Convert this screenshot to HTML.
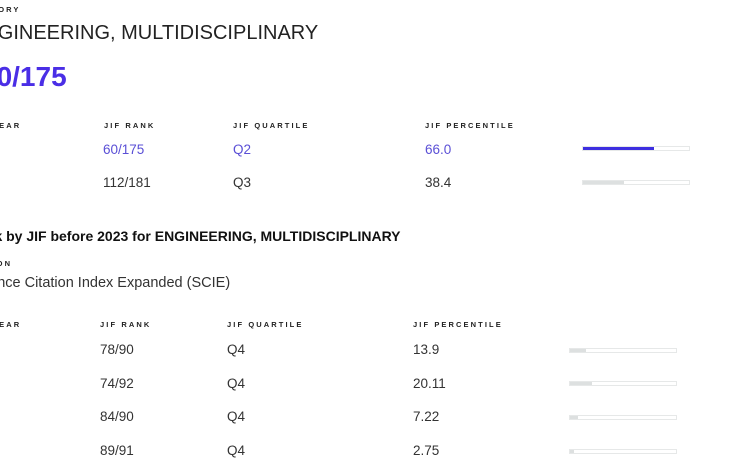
<!DOCTYPE html>
<html><head><meta charset="utf-8"><style>
body{margin:0;width:755px;height:475px;overflow:hidden;background:#fff;font-family:"Liberation Sans",sans-serif;color:#222;position:relative}
div{position:absolute;white-space:nowrap}
.h{font-size:7.5px;font-weight:bold;letter-spacing:2.1px;color:#222}
.v{font-size:13.5px;color:#333}
.p{color:#5a4fd6}
.bar{height:5px;width:108px;border:1px solid #e6e8e8;background:#fff;box-sizing:border-box}
.bar i{display:block;height:100%;background:#dde0e0}
</style></head><body>
<div class="h" style="left:-38px;top:5px">CATEGORY</div>
<div style="left:-30px;top:22px;font-size:20px;color:#222">ENGINEERING, MULTIDISCIPLINARY</div>
<div style="left:-19px;top:61px;font-size:28px;font-weight:bold;color:#4a2ee6">60/175</div>
<div class="h" style="left:-8px;top:121px">YEAR</div>
<div class="h" style="left:104px;top:121px">JIF RANK</div>
<div class="h" style="left:233px;top:121px">JIF QUARTILE</div>
<div class="h" style="left:425px;top:121px">JIF PERCENTILE</div>
<div class="v p" style="left:103px;top:142px">60/175</div>
<div class="v p" style="left:233px;top:142px">Q2</div>
<div class="v p" style="left:425px;top:142px">66.0</div>
<div class="bar" style="left:582px;top:146px"><i style="width:67%;background:#3d2ee0"></i></div>
<div class="v" style="left:103px;top:175px">112/181</div>
<div class="v" style="left:233px;top:175px">Q3</div>
<div class="v" style="left:425px;top:175px">38.4</div>
<div class="bar" style="left:582px;top:180px"><i style="width:39%"></i></div>
<div style="left:-32px;top:228px;font-size:14px;font-weight:bold;color:#111">Rank by JIF before 2023 for ENGINEERING, MULTIDISCIPLINARY</div>
<div class="h" style="left:-33px;top:259px">EDITION</div>
<div class="v" style="left:-31px;top:275px;font-size:14.5px">Science Citation Index Expanded (SCIE)</div>
<div class="h" style="left:-8px;top:320px">YEAR</div>
<div class="h" style="left:100px;top:320px">JIF RANK</div>
<div class="h" style="left:227px;top:320px">JIF QUARTILE</div>
<div class="h" style="left:413px;top:320px">JIF PERCENTILE</div>
<div class="v" style="left:100px;top:342px">78/90</div><div class="v" style="left:227px;top:342px">Q4</div><div class="v" style="left:413px;top:342px">13.9</div>
<div class="bar" style="left:569px;top:348px"><i style="width:15%"></i></div>
<div class="v" style="left:100px;top:376px">74/92</div><div class="v" style="left:227px;top:376px">Q4</div><div class="v" style="left:413px;top:376px">20.11</div>
<div class="bar" style="left:569px;top:381px"><i style="width:21%"></i></div>
<div class="v" style="left:100px;top:409px">84/90</div><div class="v" style="left:227px;top:409px">Q4</div><div class="v" style="left:413px;top:409px">7.22</div>
<div class="bar" style="left:569px;top:415px"><i style="width:8%"></i></div>
<div class="v" style="left:100px;top:443px">89/91</div><div class="v" style="left:227px;top:443px">Q4</div><div class="v" style="left:413px;top:443px">2.75</div>
<div class="bar" style="left:569px;top:449px"><i style="width:4%"></i></div>
</body></html>
